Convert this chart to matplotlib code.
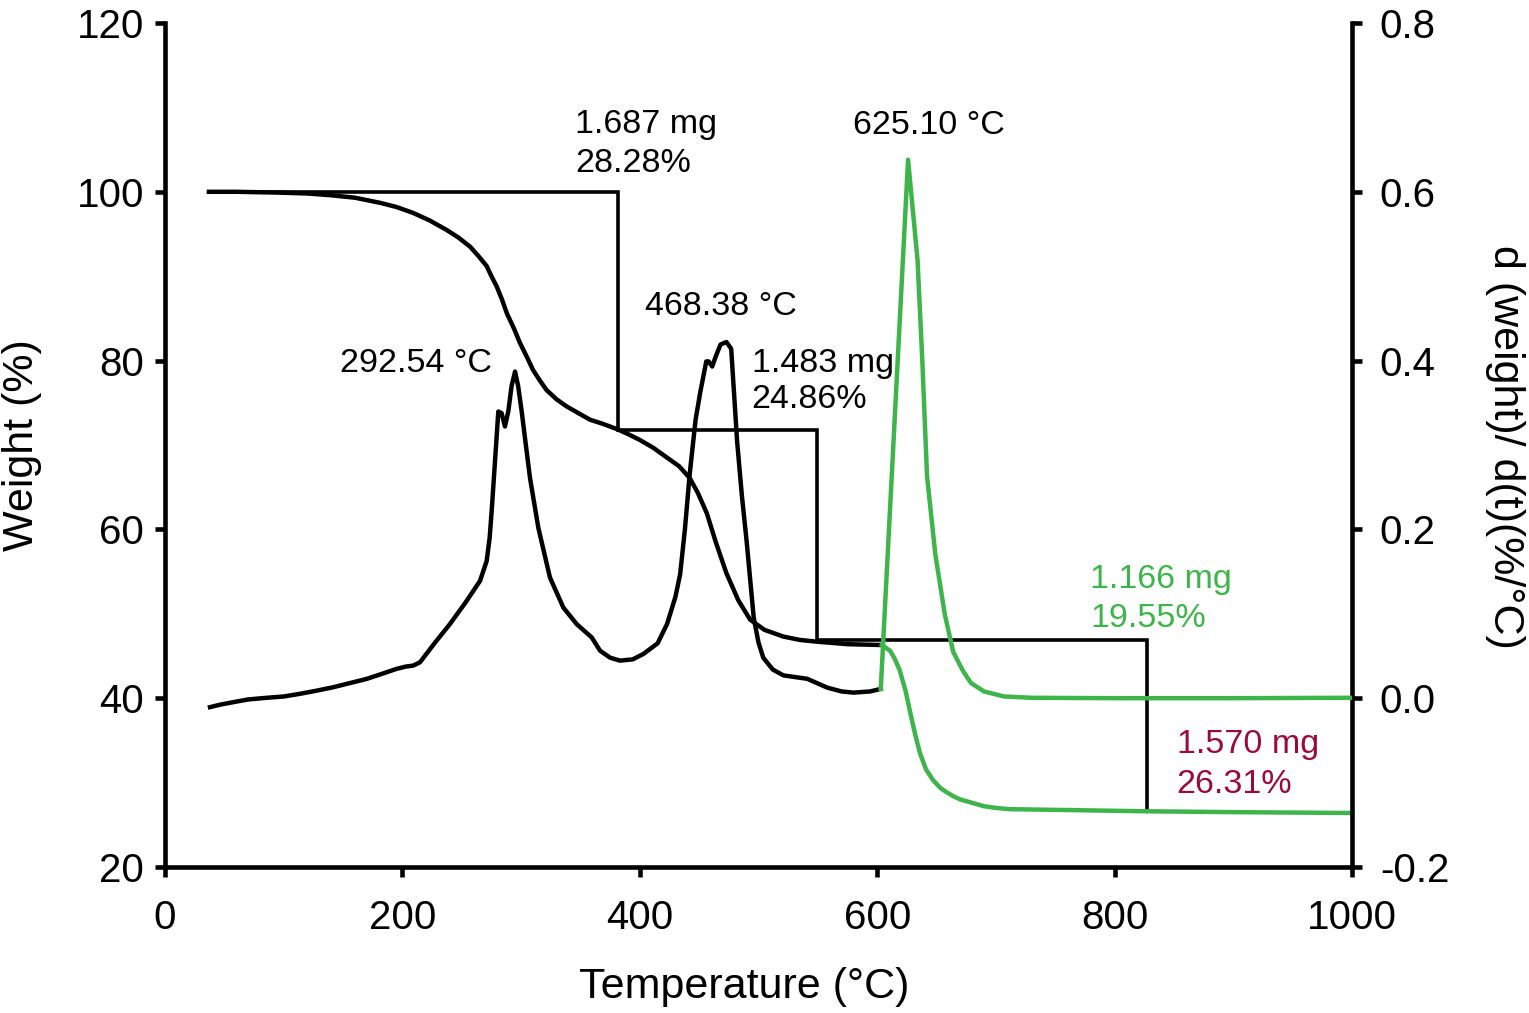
import matplotlib
matplotlib.use("Agg")
import matplotlib.pyplot as plt

plt.rcParams['font.family'] = ['Liberation Sans', 'DejaVu Sans']

# ---------------- data ----------------
# Weight (%) - first part (black) up to ~604 °C
weight_T_black = [37, 60, 97, 120, 139, 160, 181, 195, 209, 223, 237, 247, 257, 264, 271, 275,
                  279.4, 284, 288, 294, 299, 305, 310, 316, 321.5, 330, 338, 348, 358, 369, 380.5,
                  390, 400, 411, 423, 433, 442, 449, 456.5, 464, 473, 483, 493, 505, 521, 535,
                  549, 575, 604]
weight_black = [100, 100, 99.9, 99.8, 99.6, 99.3, 98.7, 98.2, 97.5, 96.6, 95.5, 94.6, 93.5, 92.4,
                91.2, 90.0, 88.8, 87.2, 85.6, 83.8, 82.1, 80.4, 78.9, 77.6, 76.5, 75.4, 74.6,
                73.8, 73.0, 72.5, 71.9, 71.3, 70.6, 69.7, 68.5, 67.5, 66.1, 64.3, 61.9, 58.5,
                54.8, 51.6, 49.3, 48.1, 47.3, 46.9, 46.7, 46.4, 46.3]
# Weight (%) - last step (green)
weight_T_green = [604, 611, 615, 619, 624, 628, 632, 636, 641, 647, 653, 658, 664, 670, 680,
                  690, 700, 712, 760, 827, 900, 1000]
weight_green = [46.3, 45.6, 44.6, 43.3, 40.8, 38.2, 35.7, 33.5, 31.6, 30.3, 29.4, 28.9, 28.4,
                28.0, 27.6, 27.2, 27.0, 26.85, 26.75, 26.6, 26.5, 26.4]

# Derivative weight (%/°C) - black part
deriv_T_black = [37.9, 47, 57.5, 70, 85.7, 100, 113.7, 128, 141.8, 156, 170, 183, 195, 203, 209,
                 214.8, 227, 240, 253, 265.4, 271, 273.5, 275.2, 278, 280.8, 283.6, 286.4, 289.2,
                 292, 294.9, 297.5, 300.5, 304, 307.5, 314.5, 324.3, 335.6, 346.8, 359.5, 366.5,
                 375, 383.3, 394, 403, 415, 423, 430, 434, 438, 442, 447, 451, 456, 458, 461,
                 464, 468, 473, 477, 479, 482, 486, 490, 496, 500, 504, 512, 521, 541, 558, 570,
                 580, 594, 603]
deriv_black = [-0.0106, -0.0075, -0.0047, -0.0015, 0.0005, 0.002, 0.0052, 0.009, 0.013, 0.018,
               0.0229, 0.029, 0.0347, 0.0375, 0.0386, 0.0425, 0.065, 0.0878, 0.113, 0.139,
               0.1626, 0.190, 0.2216, 0.2806, 0.3397, 0.3377, 0.322, 0.3397, 0.370, 0.387, 0.370,
               0.3397, 0.300, 0.261, 0.202, 0.143, 0.1074, 0.0878, 0.072, 0.0563, 0.048, 0.0445,
               0.046, 0.0524, 0.065, 0.088, 0.120, 0.147, 0.200, 0.265, 0.330, 0.363, 0.399,
               0.399, 0.393, 0.405, 0.419, 0.422, 0.414, 0.370, 0.304, 0.240, 0.186, 0.095,
               0.066, 0.048, 0.034, 0.027, 0.023, 0.0125, 0.008, 0.0066, 0.008, 0.011]
# Derivative weight (%/°C) - green part
deriv_T_green = [603, 626, 634, 638, 642, 649, 657, 664, 672, 679, 690, 707, 730, 800, 900, 1000]
deriv_green = [0.011, 0.638, 0.519, 0.400, 0.263, 0.170, 0.099, 0.055, 0.033, 0.018, 0.008,
               0.002, 0.0005, 0.0, 0.0, 0.0005]

# Step (weight-loss) construction lines
step_T = [39, 381.5, 381.5, 549, 549, 827.5, 827.5]
step_W = [100, 100, 71.72, 71.72, 46.86, 46.86, 26.7]

x_ticks = [0, 200, 400, 600, 800, 1000]
left_ticks = [20, 40, 60, 80, 100, 120]
right_ticks = [-0.2, 0.0, 0.2, 0.4, 0.6, 0.8]

GREEN = '#3db54a'
RED = '#9b0a3a'
BLACK = '#000000'

# ---------------- figure ----------------
W, H = 1529, 1013
fig = plt.figure(figsize=(W / 100, H / 100), dpi=100)
ax = fig.add_axes([165 / W, (H - 867) / H, (1352 - 165) / W, (867 - 23) / H])
ax2 = ax.twinx()

lw_curve = 3.2
ax.plot(step_T, step_W, color=BLACK, lw=2.6, solid_joinstyle='miter', zorder=2)
ax.plot(weight_T_black, weight_black, color=BLACK, lw=lw_curve, zorder=3)
ax.plot(weight_T_green, weight_green, color=GREEN, lw=lw_curve, zorder=3)
ax2.plot(deriv_T_black, deriv_black, color=BLACK, lw=lw_curve, zorder=3)
ax2.plot(deriv_T_green, deriv_green, color=GREEN, lw=lw_curve, zorder=3)

ax.set_xlim(0, 1000)
ax.set_ylim(20, 120)
ax2.set_ylim(-0.2, 0.8)
ax.set_xticks(x_ticks)
ax.set_yticks(left_ticks)
ax2.set_yticks(right_ticks)
ax2.set_yticklabels([f"{v:.1f}" for v in right_ticks])

for a in (ax, ax2):
    a.spines['top'].set_visible(False)
    for s in a.spines.values():
        s.set_linewidth(3.3)
ax.spines['right'].set_visible(False)
ax2.spines['left'].set_visible(False)
ax2.spines['bottom'].set_visible(False)

tick_fs = 29
ax.tick_params(axis='x', direction='out', length=7, width=3.3, labelsize=tick_fs, pad=16)
ax.tick_params(axis='y', direction='out', length=7, width=3.3, labelsize=tick_fs, pad=8)
ax2.tick_params(axis='y', direction='out', length=7, width=3.3, labelsize=tick_fs, pad=13)

label_fs = 31
ax.set_xlabel('Temperature (°C)', fontsize=label_fs, va='center')
ax.xaxis.set_label_coords(0.488, -0.142)
ax.set_ylabel('Weight (%)', fontsize=label_fs, va='center')
ax.yaxis.set_label_coords(-0.1205, 0.5)
ax2.set_ylabel('d (weight)/ d(t)(%/°C)', fontsize=label_fs, rotation=-90, va='center')
ax2.yaxis.set_label_coords(1.129, 0.498)

ann_fs = 24.5
def txt(x, y, s, color=BLACK):
    ax.text(x, y, s, fontsize=ann_fs, color=color, ha='left', va='baseline', zorder=5)

txt(345.4, 107.0, '1.687 mg')
txt(345.4, 102.4, '28.28%')
txt(579.6, 106.8, '625.10 °C')
txt(404.4, 85.4, '468.38 °C')
txt(494.3, 78.6, '1.483 mg')
txt(494.3, 74.35, '24.86%')
txt(147.4, 78.6, '292.54 °C')
txt(779.3, 53.1, '1.166 mg', GREEN)
txt(779.3, 48.45, '19.55%', GREEN)
txt(852.3, 33.5, '1.570 mg', RED)
txt(852.3, 28.77, '26.31%', RED)

fig.savefig('out.png', dpi=100)
